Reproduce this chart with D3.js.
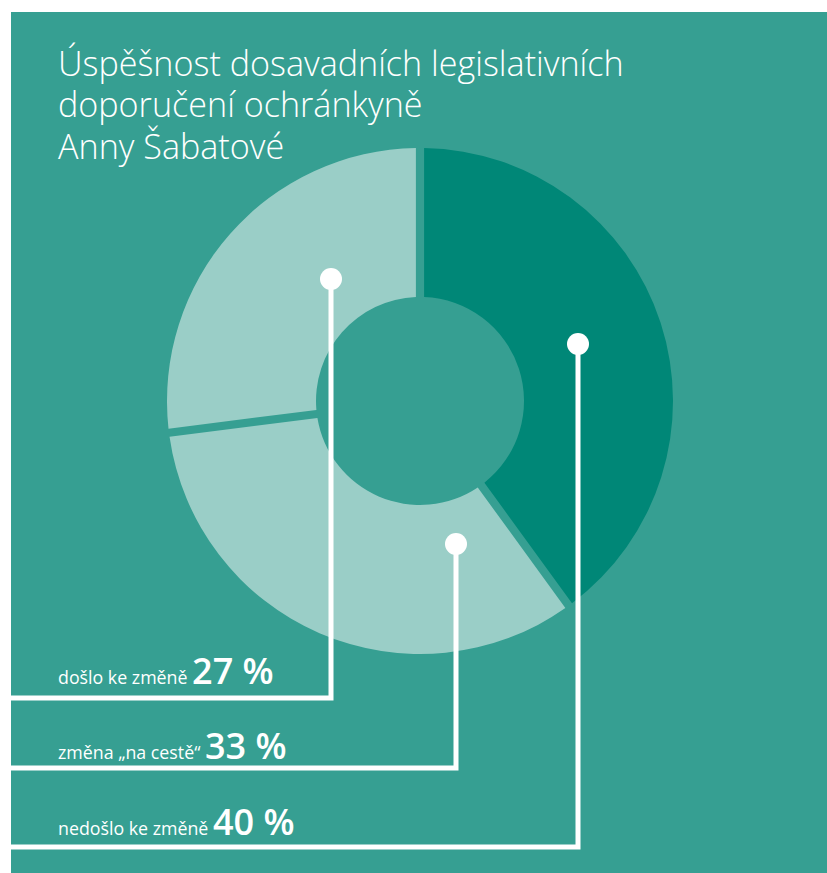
<!DOCTYPE html>
<html>
<head>
<meta charset="utf-8">
<script src="https://cdn.jsdelivr.net/npm/d3@7"></script>
<style>
  body { margin: 0; background: #fff; }
  svg { display: block; }
  .title { font-family: "Open Sans", sans-serif; font-weight: 300; fill: #fff; }
  .lbl { font-family: "Open Sans", sans-serif; fill: #fff; }
</style>
</head>
<body>
<div class="container"></div>
<script>
const WIDTH = 827,
      HEIGHT = 873,
      CX = 420,
      CY = 401,
      R_OUT = 253,
      R_IN = 104;

// data
var categories = ['nedošlo ke změně', 'změna „na cestě“', 'došlo ke změně'];
var values = [40, 33, 27];
var colors = ['#008777', '#9acec7', '#9acec7'];
var titleLines = ['Úspěšnost dosavadních legislativních', 'doporučení ochránkyně', 'Anny Šabatové'];

// leader layout (dot offset from center, horizontal rule y, label baseline y)
var leaders = [
  {dx: 158, dy: -57, ruleY: 847, textY: 835},
  {dx: 36, dy: 143, ruleY: 768, textY: 759},
  {dx: -89, dy: -122, ruleY: 698, textY: 684}
];

var svg = d3.select('.container').append('svg')
    .attr('width', WIDTH).attr('height', HEIGHT);

svg.append('rect')
    .attr('x', 11).attr('y', 12)
    .attr('width', WIDTH - 11).attr('height', HEIGHT - 12)
    .attr('fill', '#369f92');

// title: a condensed light face, squeezed so the first line spans the same width
var title = svg.append('text').attr('class', 'title').attr('font-size', 34);
title.selectAll('tspan').data(titleLines).enter().append('tspan')
    .attr('x', 0).attr('y', function(d, i) { return 76 + i * 41.5; })
    .text(function(d) { return d; });
var w = title.select('tspan').node().getComputedTextLength();
title.attr('transform', 'translate(58,0) scale(' + (566 / w) + ',1)');

var pie = d3.pie().sort(null).value(function(d) { return d; });
var arcs = pie(values);
var arc = d3.arc().innerRadius(R_IN).outerRadius(R_OUT).padAngle(0.03);

var g = svg.append('g').attr('transform', 'translate(' + CX + ',' + CY + ')');
g.selectAll('path.slice').data(arcs).enter().append('path')
    .attr('class', 'slice')
    .attr('d', arc)
    .attr('fill', function(d, i) { return colors[i]; });

// leaders
leaders.forEach(function(l, i) {
  var x = CX + l.dx, y = CY + l.dy;
  svg.append('path')
      .attr('d', 'M' + x + ',' + y + 'V' + l.ruleY + 'H0')
      .attr('fill', 'none').attr('stroke', '#fff').attr('stroke-width', 5);
  svg.append('circle').attr('cx', x).attr('cy', y).attr('r', 11).attr('fill', '#fff');

  var t = svg.append('text').attr('class', 'lbl').attr('x', 58).attr('y', l.textY);
  t.append('tspan').attr('font-size', 17.8).text(categories[i] + ' ');
  t.append('tspan').attr('font-size', 36).attr('font-weight', 600).text(values[i] + ' %');
});

// white page margin on the left
svg.append('rect').attr('x', 0).attr('y', 0).attr('width', 11).attr('height', HEIGHT).attr('fill', '#fff');
</script>
</body>
</html>
